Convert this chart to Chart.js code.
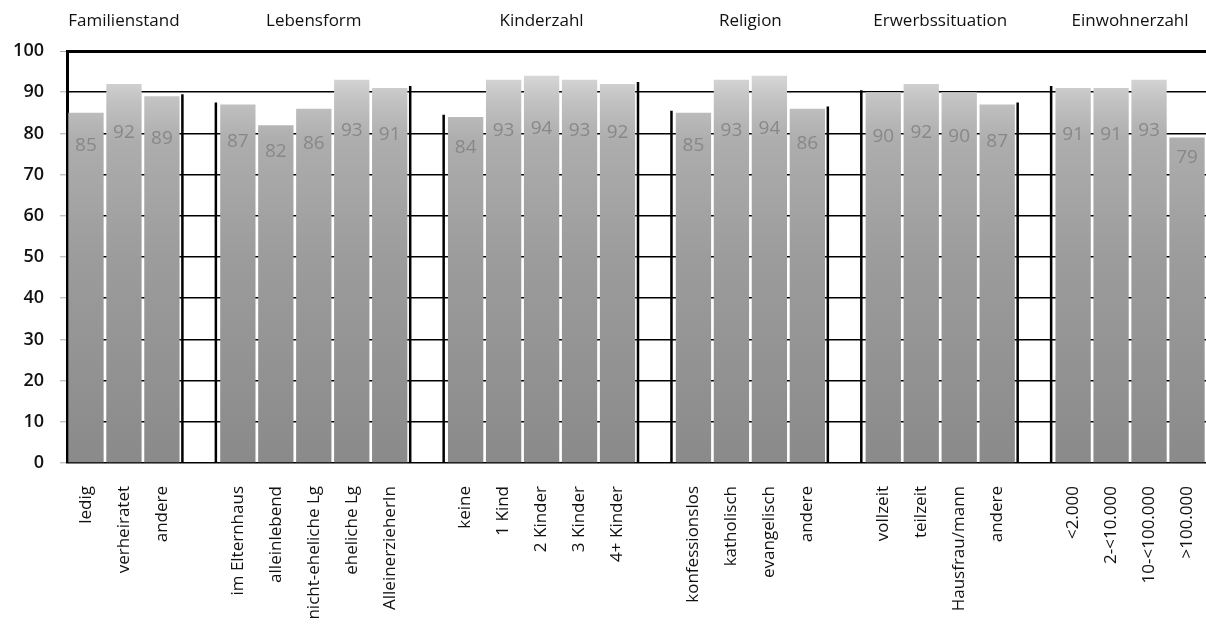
<!DOCTYPE html>
<html><head><meta charset="utf-8">
<script src="https://cdn.jsdelivr.net/npm/chart.js@4/dist/chart.umd.min.js"></script>
<style>html,body{margin:0;padding:0;background:#fff}#wrap{width:1206px;height:624px;position:relative}</style>
</head><body><div id="wrap"><canvas id="c" width="1206" height="624"></canvas></div>
<script>
// ---- data ----
const groupTitles = ['Familienstand','Lebensform','Kinderzahl','Religion','Erwerbssituation','Einwohnerzahl'];
const famLabels = ['ledig','verheiratet','andere'];
const famValues = [85, 92, 89];
const lebLabels = ['im Elternhaus','alleinlebend','nicht-eheliche Lg','eheliche Lg','AlleinerzieherIn'];
const lebValues = [87, 82, 86, 93, 91];
const kindLabels = ['keine','1 Kind','2 Kinder','3 Kinder','4+ Kinder'];
const kindValues = [84, 93, 94, 93, 92];
const relLabels = ['konfessionslos','katholisch','evangelisch','andere'];
const relValues = [85, 93, 94, 86];
const erwLabels = ['vollzeit','teilzeit','Hausfrau/mann','andere'];
const erwValues = [90, 92, 90, 87];
const einwLabels = ['<2.000','2-<10.000','10-<100.000','>100.000'];
const einwValues = [91, 91, 93, 79];
const yTicks = [0,10,20,30,40,50,60,70,80,90,100];

const groupLabelLists = [famLabels, lebLabels, kindLabels, relLabels, erwLabels, einwLabels];
const groupValueLists = [famValues, lebValues, kindValues, relValues, erwValues, einwValues];

// build category axis with empty gap slots between groups
const categories = [];
const values = [];
const groupRanges = [];
groupLabelLists.forEach((labs, g) => {
  const start = categories.length;
  labs.forEach((l, i) => { categories.push(l); values.push(groupValueLists[g][i]); });
  groupRanges.push([start, categories.length - 1]);
  if (g < groupLabelLists.length - 1) { categories.push(''); values.push(null); }
});

const FONT = "'Open Sans', 'DejaVu Sans', sans-serif";

function barGradient(ctx) {
  const chart = ctx.chart;
  const area = chart.chartArea;
  if (!area) return '#999';
  const y = chart.scales.y;
  const g = chart.ctx.createLinearGradient(0, y.getPixelForValue(0), 0, y.getPixelForValue(100));
  g.addColorStop(0.0, '#8a8a8a');
  g.addColorStop(0.5, '#9c9c9c');
  g.addColorStop(0.78, '#adadad');
  g.addColorStop(0.88, '#c2c2c2');
  g.addColorStop(0.95, '#dadada');
  g.addColorStop(1.0, '#eeeeee');
  return g;
}

const decor = {
  id: 'decor',
  afterDatasetsDraw(chart) {
    const ctx = chart.ctx;
    const xs = chart.scales.x, ys = chart.scales.y;
    const slot = xs.getPixelForValue(1) - xs.getPixelForValue(0);
    const y0 = ys.getPixelForValue(0);
    ctx.save();
    // black edges of the empty gap columns
    ctx.strokeStyle = '#000';
    ctx.lineWidth = 2.5;
    values.forEach((v, i) => {
      if (v !== null) return;
      const cx = xs.getPixelForValue(i);
      const lx = cx - slot / 2 + 1.5;
      const rx = cx + slot / 2 - 3;
      ctx.beginPath();
      ctx.moveTo(lx, y0); ctx.lineTo(lx, ys.getPixelForValue(values[i - 1] + 0.5));
      ctx.moveTo(rx, y0); ctx.lineTo(rx, ys.getPixelForValue(values[i + 1] + 0.5));
      ctx.stroke();
    });
    // value labels inside bars
    ctx.fillStyle = '#888888';
    ctx.font = "19px " + FONT;
    ctx.textAlign = 'center';
    ctx.textBaseline = 'middle';
    values.forEach((v, i) => {
      if (v === null) return;
      const x = xs.getPixelForValue(i);
      const y = ys.getPixelForValue(37 + 0.47 * v);
      ctx.fillText(String(v), x, y);
    });
    // group titles
    ctx.fillStyle = '#111';
    ctx.font = "17px " + FONT;
    groupRanges.forEach((r, g) => {
      const x = (xs.getPixelForValue(r[0]) + xs.getPixelForValue(r[1])) / 2;
      ctx.fillText(groupTitles[g], x, 21);
    });
    ctx.restore();
  }
};

new Chart(document.getElementById('c'), {
  type: 'bar',
  data: {
    labels: categories,
    datasets: [{
      data: values,
      backgroundColor: barGradient,
      borderWidth: 0,
      barPercentage: 0.93,
      categoryPercentage: 1.0
    }]
  },
  options: {
    responsive: false,
    animation: false,
    devicePixelRatio: 1,
    layout: { padding: { top: 51, right: 0, left: 0, bottom: 0 } },
    plugins: { legend: { display: false }, tooltip: { enabled: false }, title: { display: false } },
    scales: {
      x: {
        grid: { display: false, drawTicks: false },
        border: { display: false },
        ticks: {
          autoSkip: false, minRotation: 90, maxRotation: 90,
          color: '#111', padding: 23,
          font: { family: FONT, size: 17 }
        },
        afterFit(scale) { scale.height = 161; scale.paddingLeft = 0; scale.paddingRight = 0; }
      },
      y: {
        min: 0, max: 100,
        afterBuildTicks(scale) { scale.ticks = yTicks.map(v => ({ value: v })); },
        grid: {
          color: '#000',
          lineWidth: c => (c.tick && c.tick.value === 100) ? 3 : 1.6,
          drawTicks: true, tickLength: 7, tickColor: '#aaa', tickWidth: 1
        },
        border: { display: true, color: '#000', width: 3 },
        ticks: { color: '#111', padding: 16, font: { family: FONT, size: 18, weight: '600' } },
        afterFit(scale) { scale.width = 67; scale.paddingTop = 0; scale.paddingBottom = 0; }
      }
    }
  },
  plugins: [decor]
});
</script>
</body></html>
